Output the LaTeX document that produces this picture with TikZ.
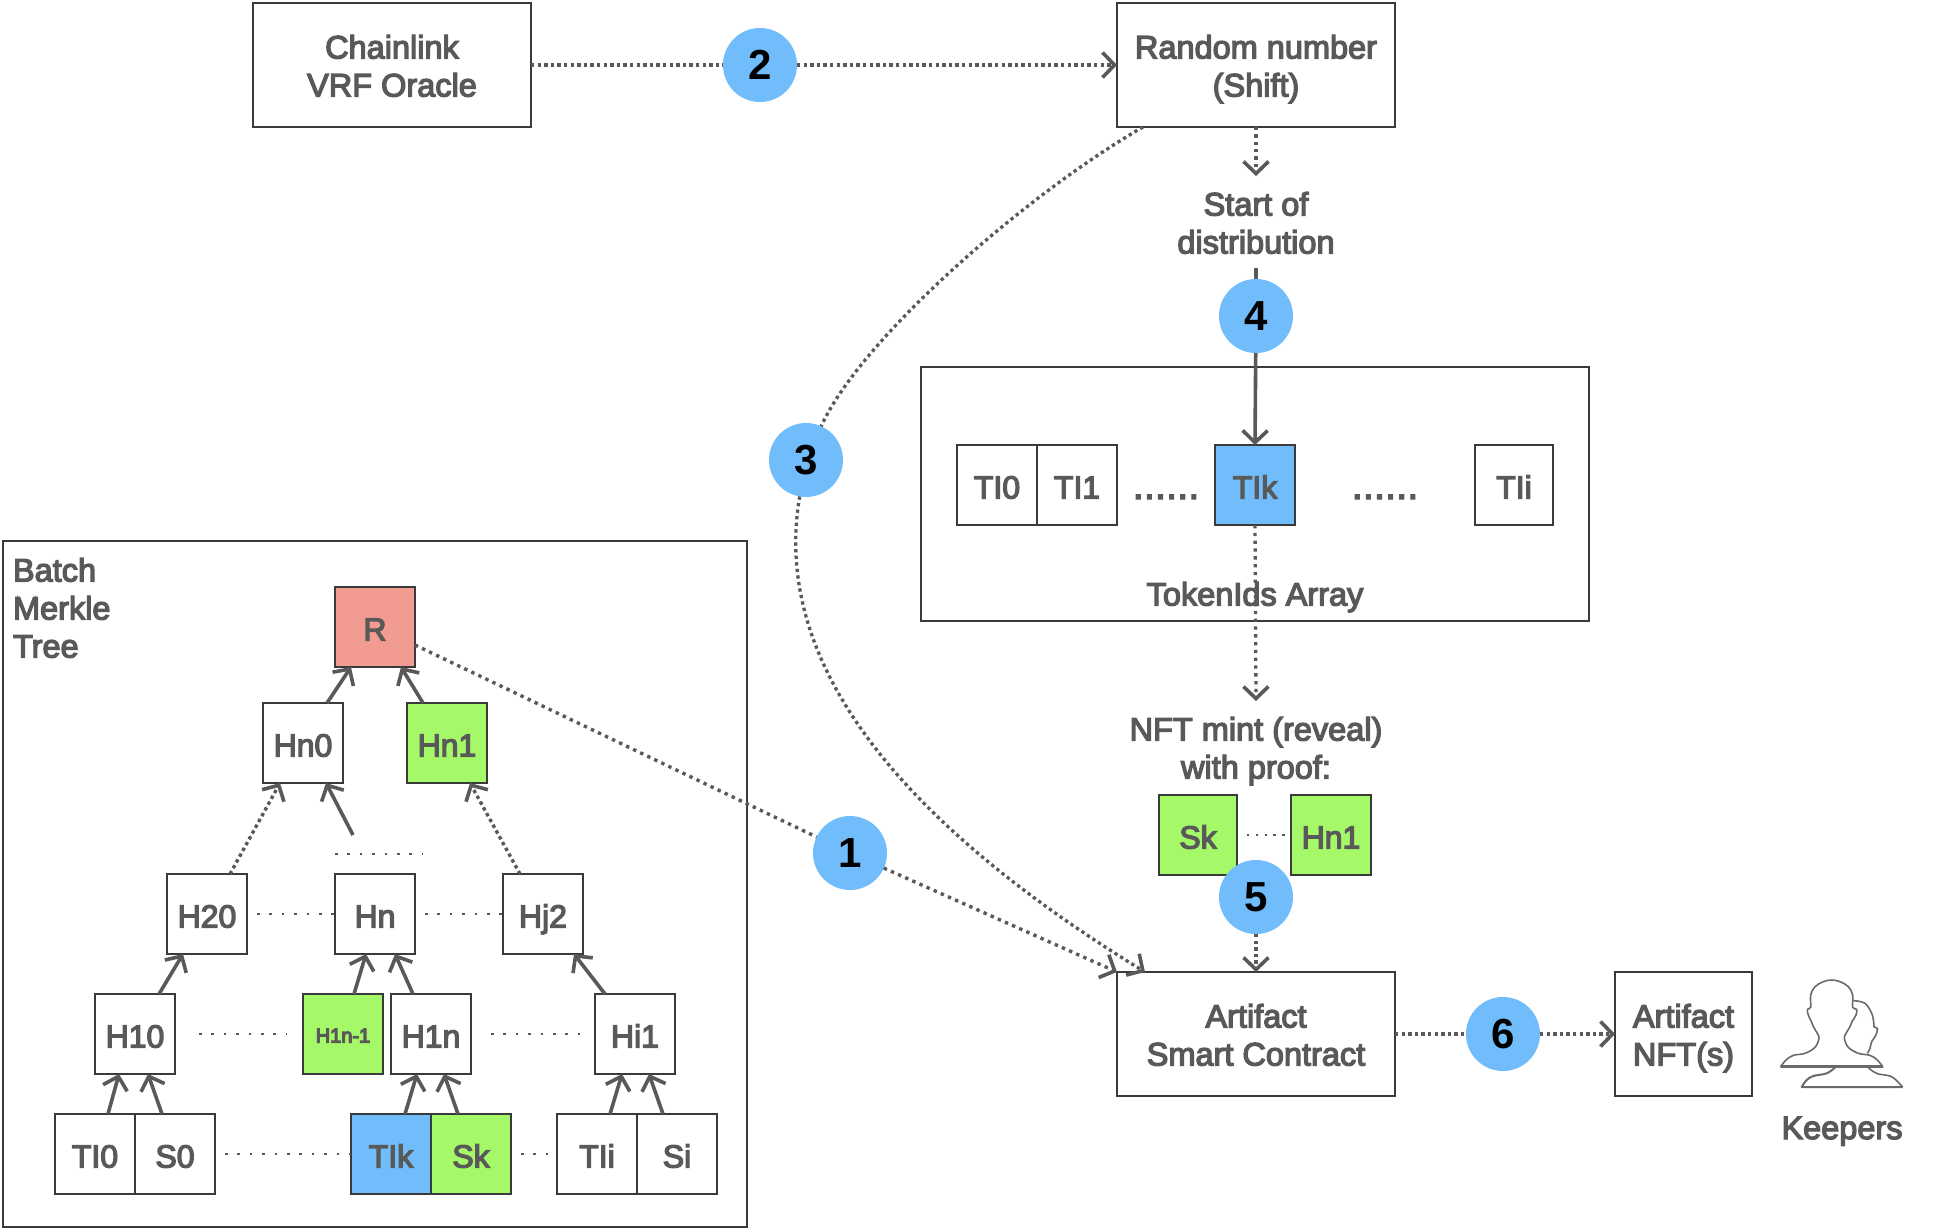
\documentclass[tikz,border=0pt]{standalone}
\usepackage{fontspec}
\setmainfont{Liberation Sans}
\newcommand\lab{\special{pdf:code 2 Tr 1.3 w}}
\usetikzlibrary{arrows.meta,calc}
\definecolor{ink}{HTML}{595959}
\definecolor{edge}{HTML}{3A3A3A}
\definecolor{sky}{HTML}{71BCFA}
\definecolor{lime}{HTML}{A5F969}
\definecolor{rose}{HTML}{F29B91}
\tikzset{
  x=1bp,y=-1bp,
  lbl/.style={text=ink,inner sep=0pt,outer sep=0pt,align=center,text height=25bp,text depth=0bp,font=\lab\fontsize{32.5bp}{38bp}\selectfont},
  two lines/.style={text height=63bp},
  three lines/.style={text height=101bp},
  cell/.style={lbl,text height=27bp,draw=edge,line width=2bp,fill=white,minimum width=80bp,minimum height=80bp,font=\lab\fontsize{32bp}{38bp}\selectfont},
  wide/.style={lbl,two lines,draw=edge,line width=2bp,fill=white,minimum width=278bp,minimum height=124bp},
  frame/.style={draw=edge,line width=2bp},
  num/.style={circle,fill=sky,minimum size=74bp,inner sep=0pt,outer sep=0pt,text=black,font=\fontsize{42bp}{42bp}\selectfont\bfseries},
  barb/.style={-{Straight Barb[length=12bp,width=25bp,line width=3.6bp]}},
  link/.style={draw=ink,line width=3.6bp,barb},
  dots/.style={draw=ink,line width=3.4bp,dash pattern=on 3.4bp off 3.2bp},
  dotsarrow/.style={dots,barb},
  fine/.style={draw=ink,line width=3.3bp,dash pattern=on 3.3bp off 3.3bp},
  finearrow/.style={fine,barb},
  sparse/.style={draw=ink,line width=2.6bp,dash pattern=on 2.6bp off 9.8bp},
  bigdots/.style={text=ink,inner sep=0pt,font=\lab\fontsize{40bp}{40bp}\selectfont},
  person/.style={draw=ink!90,line width=1.6bp,line join=round},
}
\begin{document}
\begin{tikzpicture}
\useasboundingbox[fill=white] (0,0) rectangle (1946,1228);
% frames
\node[frame,minimum width=744bp,minimum height=686bp,inner sep=0pt,outer sep=0pt] (batch) at (375,884) {};
\node[frame,minimum width=668bp,minimum height=254bp,inner sep=0pt,outer sep=0pt] (array) at (1255,494) {};
\node[lbl,three lines,align=left,anchor=west] (batchlabel) at (13,607) {Batch\\Merkle\\Tree};
% top row
\node[wide] (oracle) at (392,65) {Chainlink\\VRF Oracle};
\node[wide] (rand) at (1256,65) {Random number\\(Shift)};
\node[num] (two) at (760,65) {2};
\node[lbl,two lines] (start) at (1256,222) {Start of\\distribution};
\coordinate (startdown) at (1256,176);
\coordinate (startline) at (1256,268);
\node[num] (four) at (1256,316) {4};
\node[num] (three) at (806,460) {3};
\node[num] (one) at (850,853) {1};
% array
\node[cell] (a0) at (997,485) {TI0};
\node[cell] (a1) at (1077,485) {TI1};
\node[cell,fill=sky] (ak) at (1255,485) {TIk};
\node[cell,minimum width=78bp] (ai) at (1514,485) {TIi};
\node[bigdots,anchor=base] (adots1) at (1166,499) {......};
\node[bigdots,anchor=base] (adots2) at (1385,499) {......};
\coordinate (mintin) at (1256,701);
\draw[finearrow,dash pattern=on 3.3bp off 4.5bp] (ak.south) -- (mintin);
\node[lbl] (arraylabel) at (1255,593) {TokenIds Array};
% mint
\node[lbl,two lines] (mint) at (1256,747) {NFT mint (reveal)\\with proof:};
\node[cell,fill=lime,minimum width=78bp] (psk) at (1198,835) {Sk};
\node[cell,fill=lime] (phn) at (1331,835) {Hn1};
\draw[sparse,dash pattern=on 2.4bp off 6.4bp] (psk.east)++(10bp,0) -- (phn.west);
\node[num] (five) at (1256,897) {5};
\node[wide] (sc) at (1256,1034) {Artifact\\Smart Contract};
\node[wide,minimum width=137bp] (nft) at (1683.5,1034) {Artifact\\NFT(s)};
\node[num] (six) at (1503,1034) {6};
\node[lbl] (keepers) at (1842,1126.5) {Keepers};
% tree
\node[cell,fill=rose] (r) at (375,627) {R};
\node[cell] (hn0) at (303,743) {Hn0};
\node[cell,fill=lime] (hn1) at (447,743) {Hn1};
\node[cell] (h20) at (207,914) {H20};
\node[cell] (hn) at (375,914) {Hn};
\node[cell] (hj2) at (543,914) {Hj2};
\node[cell] (h10) at (135,1034) {H10};
\node[cell,fill=lime,text height=17bp,font=\lab\fontsize{20bp}{24bp}\selectfont] (h1m) at (343,1034) {H1n-1};
\node[cell] (h1n) at (431,1034) {H1n};
\node[cell] (hi1) at (635,1034) {Hi1};
\node[cell] (t0) at (95,1154) {TI0};
\node[cell] (s0) at (175,1154) {S0};
\node[cell,fill=sky] (tk) at (391,1154) {TIk};
\node[cell,fill=lime] (sk) at (471,1154) {Sk};
\node[cell] (ti) at (597,1154) {TIi};
\node[cell] (si) at (677,1154) {Si};
\coordinate (midfoot) at (353,835);
\coordinate (midl) at (335,854);
\coordinate (midr) at (423,854);
% main connectors
\draw[dots] (oracle.east) -- (two);
\draw[dotsarrow] (two) -- (rand.west);
\draw[finearrow,dash pattern=on 3.3bp off 4bp] (rand.south) -- (startdown);
\draw[draw=ink,line width=3.6bp] (startline) -- (four);
\draw[link] (four) -- (ak.north);
\draw[fine] ([xshift=-113bp]rand.south) .. controls (1025,195) and (860,340) .. (three);
\draw[finearrow] (three) .. controls (768,680) and (930,840) .. ([xshift=-111bp]sc.north);
\draw[dots,dash pattern=on 3.4bp off 4.4bp] (r.east |- 0,645) -- (one);
\draw[dotsarrow,dash pattern=on 3.4bp off 4.4bp] (one) -- (sc.north west);
\draw[dotsarrow] (five) -- (sc.north);
\draw[dots] (sc.east) -- (six);
\draw[dotsarrow] (six) -- (nft.west);
% tree connectors
\draw[link] ([xshift=24bp]hn0.north) -- ([xshift=-24bp]r.south);
\draw[link] ([xshift=-24bp]hn1.north) -- ([xshift=26bp]r.south);
\draw[dotsarrow] ([xshift=23bp]h20.north) -- ([xshift=-23bp]hn0.south);
\draw[link] (midfoot) -- ([xshift=23bp]hn0.south);
\draw[dotsarrow] ([xshift=-23bp]hj2.north) -- ([xshift=23bp]hn1.south);
\draw[link] ([xshift=-48bp]h10.north -| h20.north) -- ([xshift=-24bp]h20.south);
\draw[link] ([xshift=11bp]h1m.north) -- ([xshift=-9bp]hn.south);
\draw[link] ([xshift=-18bp]h1n.north) -- ([xshift=20bp]hn.south);
\draw[link] ([xshift=-30bp]hi1.north) -- ([xshift=31bp]hj2.south);
\draw[link] ([xshift=13bp]t0.north) -- ([xshift=-16bp]h10.south);
\draw[link] ([xshift=-13bp]s0.north) -- ([xshift=13bp]h10.south);
\draw[link] ([xshift=14bp]tk.north) -- ([xshift=-14bp]h1n.south);
\draw[link] ([xshift=-13bp]sk.north) -- ([xshift=13bp]h1n.south);
\draw[link] ([xshift=13bp]ti.north) -- ([xshift=-13bp]hi1.south);
\draw[link] ([xshift=-14bp]si.north) -- ([xshift=14bp]hi1.south);
\draw[sparse] (midl) -- (midr);
\draw[sparse] ([xshift=10bp]h20.east) -- (hn.west);
\draw[sparse] ([xshift=10bp]hn.east) -- (hj2.west);
\draw[sparse] ([xshift=24bp]h10.east) -- ([xshift=-16bp]h1m.west);
\draw[sparse] ([xshift=20bp]h1n.east) -- ([xshift=-15bp]hi1.west);
\draw[sparse] ([xshift=10bp]s0.east) -- (tk.west);
\draw[sparse] ([xshift=10bp]sk.east) -- (ti.west);
% keepers icon
\begin{scope}[shift={(1790,970)},x=0.3333bp,y=-0.3333bp]
\draw[person] plot[smooth,tension=0.6] coordinates {(190,92)(225,100)(247,135)(252,172)};
\draw[person] plot[smooth,tension=0.6] coordinates {(252,172)(262,175)(258,195)(245,215)(240,235)(232,250)};
\draw[person,line width=2bp] plot[smooth,tension=0.6] coordinates {(135,293)(110,310)(70,318)(50,330)(35,351)} -- (338,351);
\draw[person] plot[smooth,tension=0.6] coordinates {(338,351)(318,330)(300,318)(265,312)(250,305)(235,293)};
\draw[person,fill=white] plot[smooth,tension=0.6] coordinates {(278,290)(262,270)(240,256)(205,250)(175,232)(163,205)(168,190)(180,170)(186,155)(198,135)(200,118)(188,112)(188,75)(175,50)(150,35)(125,30)(100,35)(75,50)(62,75)(62,112)(52,118)(55,135)(64,155)(70,170)(82,190)(87,205)(75,232)(45,250)(10,256)(-12,270)(-28,290)} -- cycle;
\draw[person,line width=2.4bp] (-28,290) -- (278,290);
\end{scope}
\end{tikzpicture}
\end{document}
